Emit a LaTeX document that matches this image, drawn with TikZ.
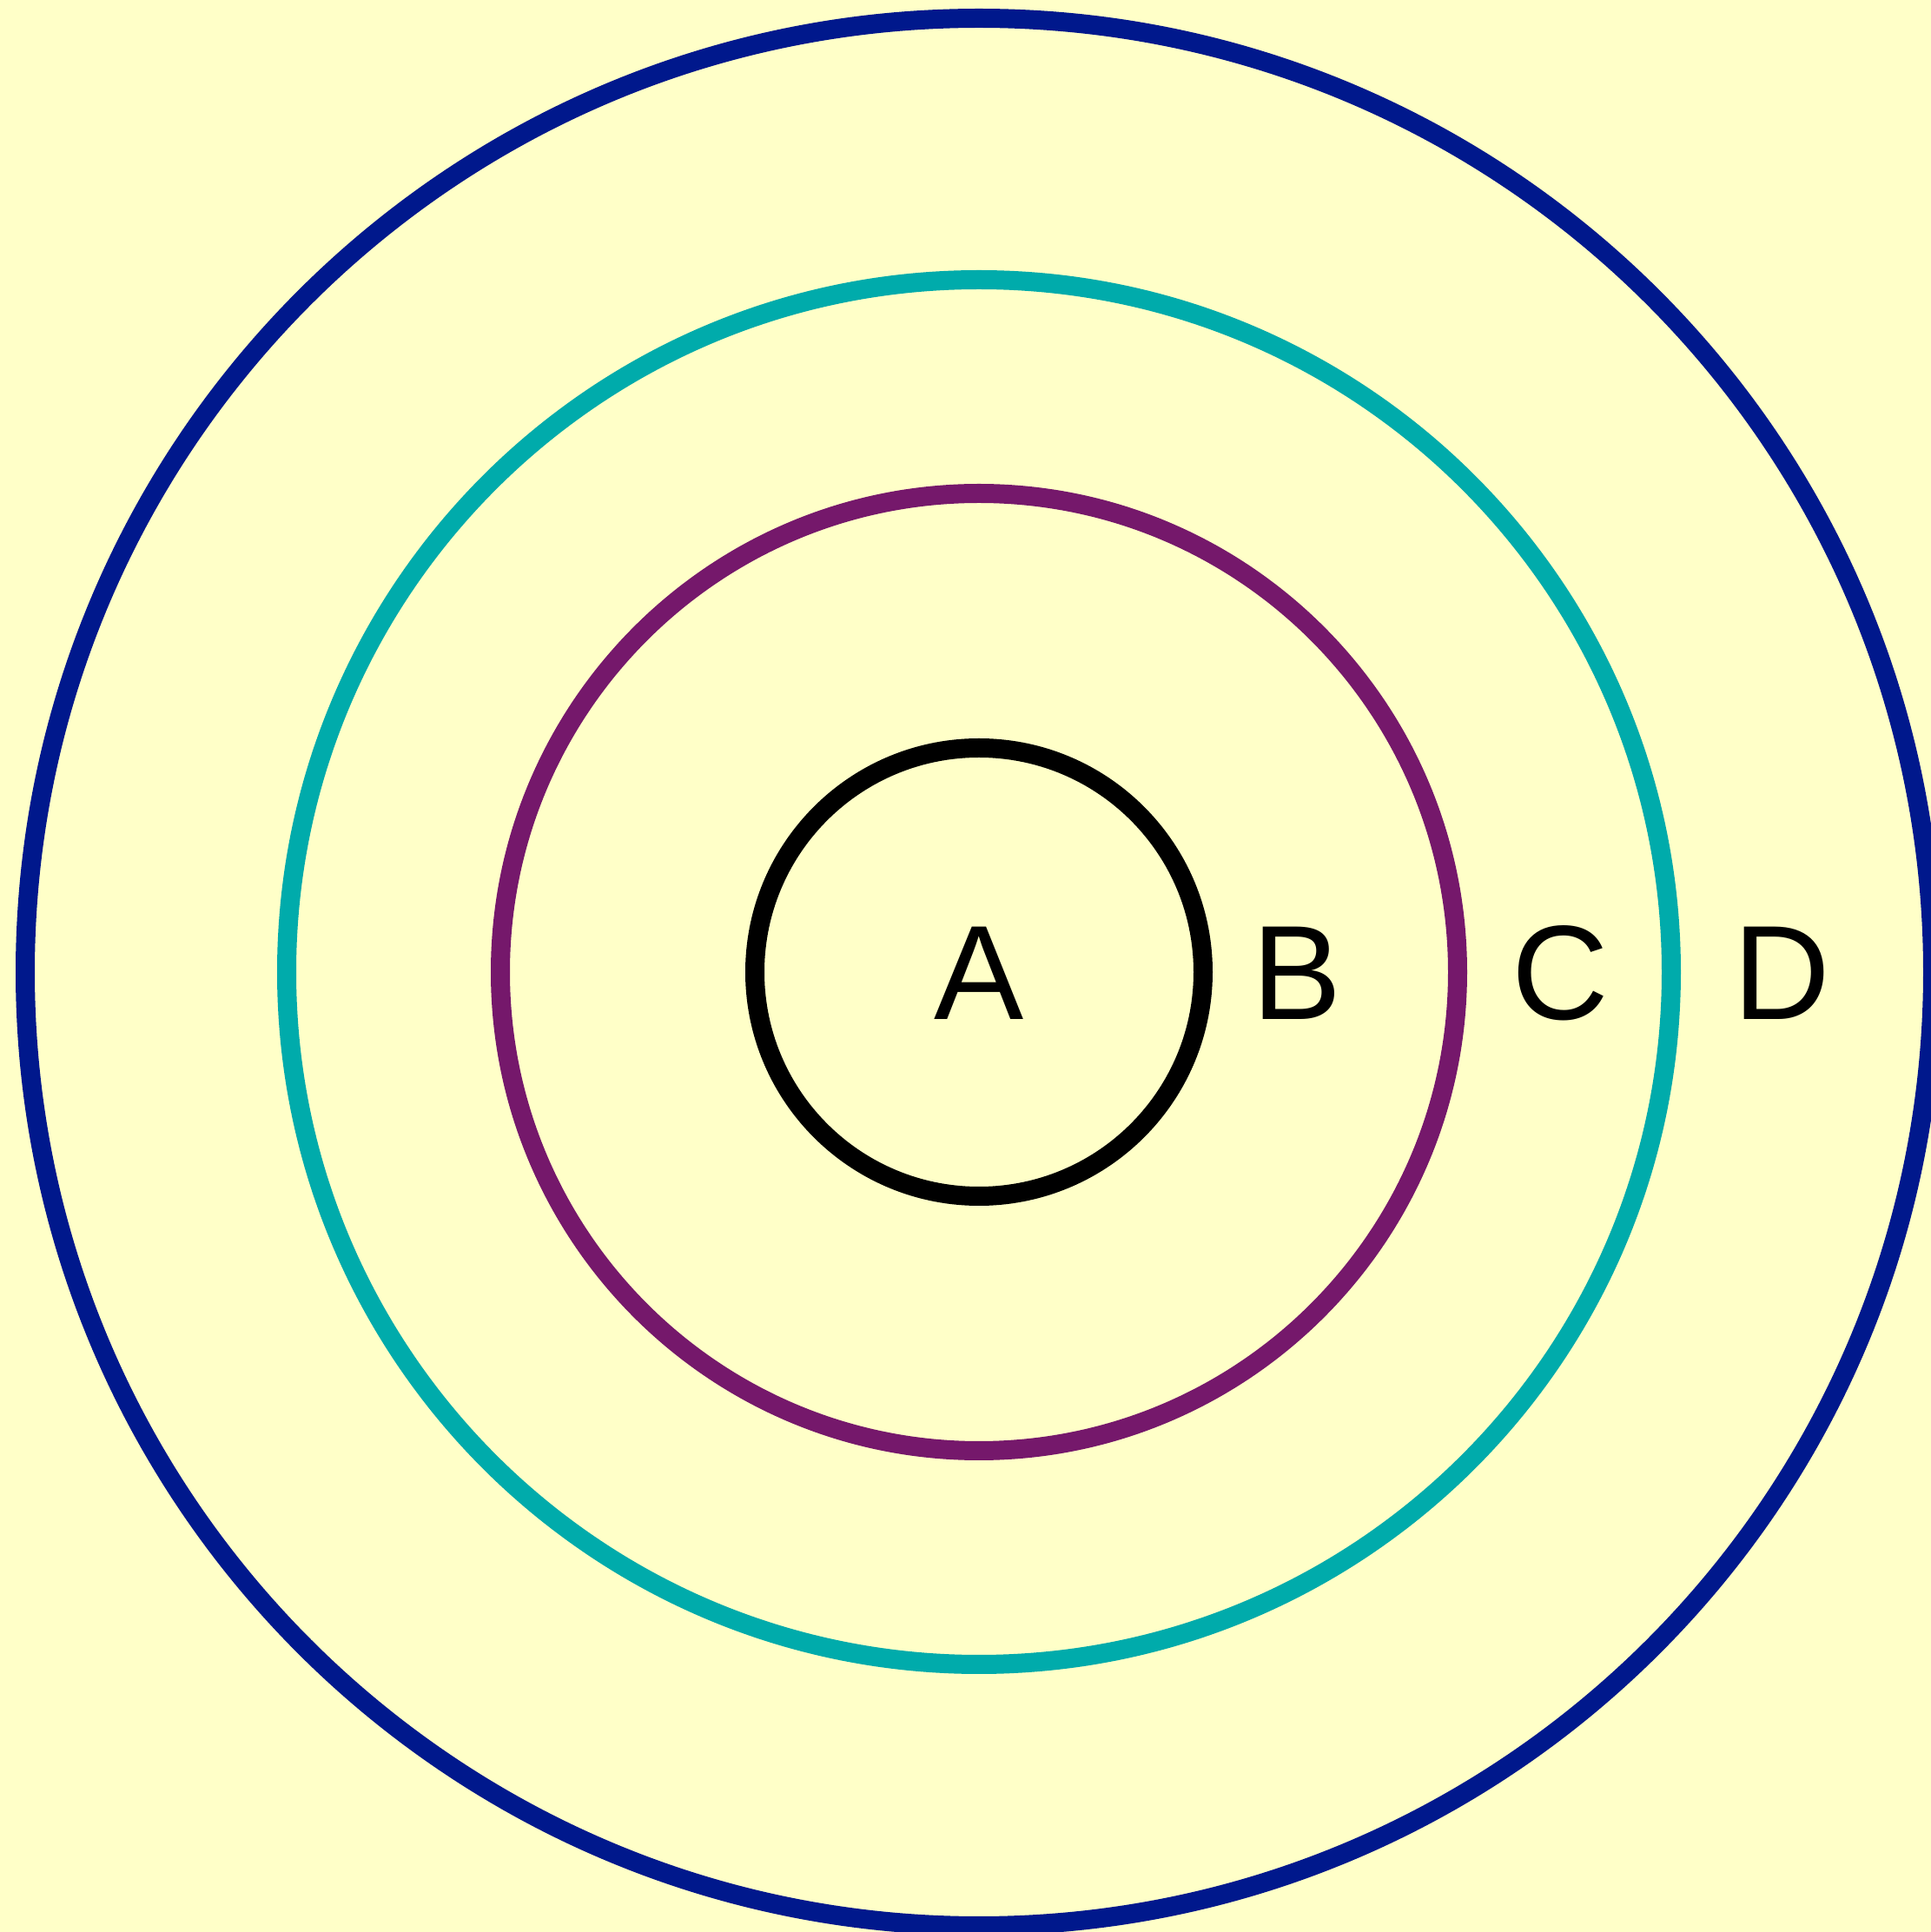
\documentclass[tikz,border=0pt]{standalone}
\usepackage{fontspec}
\setmainfont{Liberation Sans}
\definecolor{bgyellow}{RGB}{255,255,200}
\definecolor{ringblue}{RGB}{0,24,140}
\definecolor{ringteal}{RGB}{0,171,171}
\definecolor{ringpurple}{RGB}{117,24,107}
\begin{document}
\begin{tikzpicture}[
  ring/.style={line width=0.22cm},
  lbl/.style={anchor=base, inner sep=0pt, font=\fontsize{44}{44}\selectfont}
]
\useasboundingbox (0,0) rectangle (22.23,22.24);
\clip (0,0) rectangle (22.23,22.24);
\fill[bgyellow] (0,0) rectangle (22.23,22.24);
\coordinate (c) at (11.27,11.05);
\draw[ring, ringblue] (c) circle[radius=10.98];
\draw[ring, ringteal] (c) circle[radius=7.97];
\draw[ring, ringpurple] (c) circle[radius=5.51];
\draw[ring, black] (c) circle[radius=2.58];
\node[lbl] (A) at (11.27,10.50) {A};
\node[lbl] (B) at (14.93,10.50) {B};
\node[lbl] (C) at (17.96,10.50) {C};
\node[lbl] (D) at (20.51,10.50) {D};
\end{tikzpicture}
\end{document}
